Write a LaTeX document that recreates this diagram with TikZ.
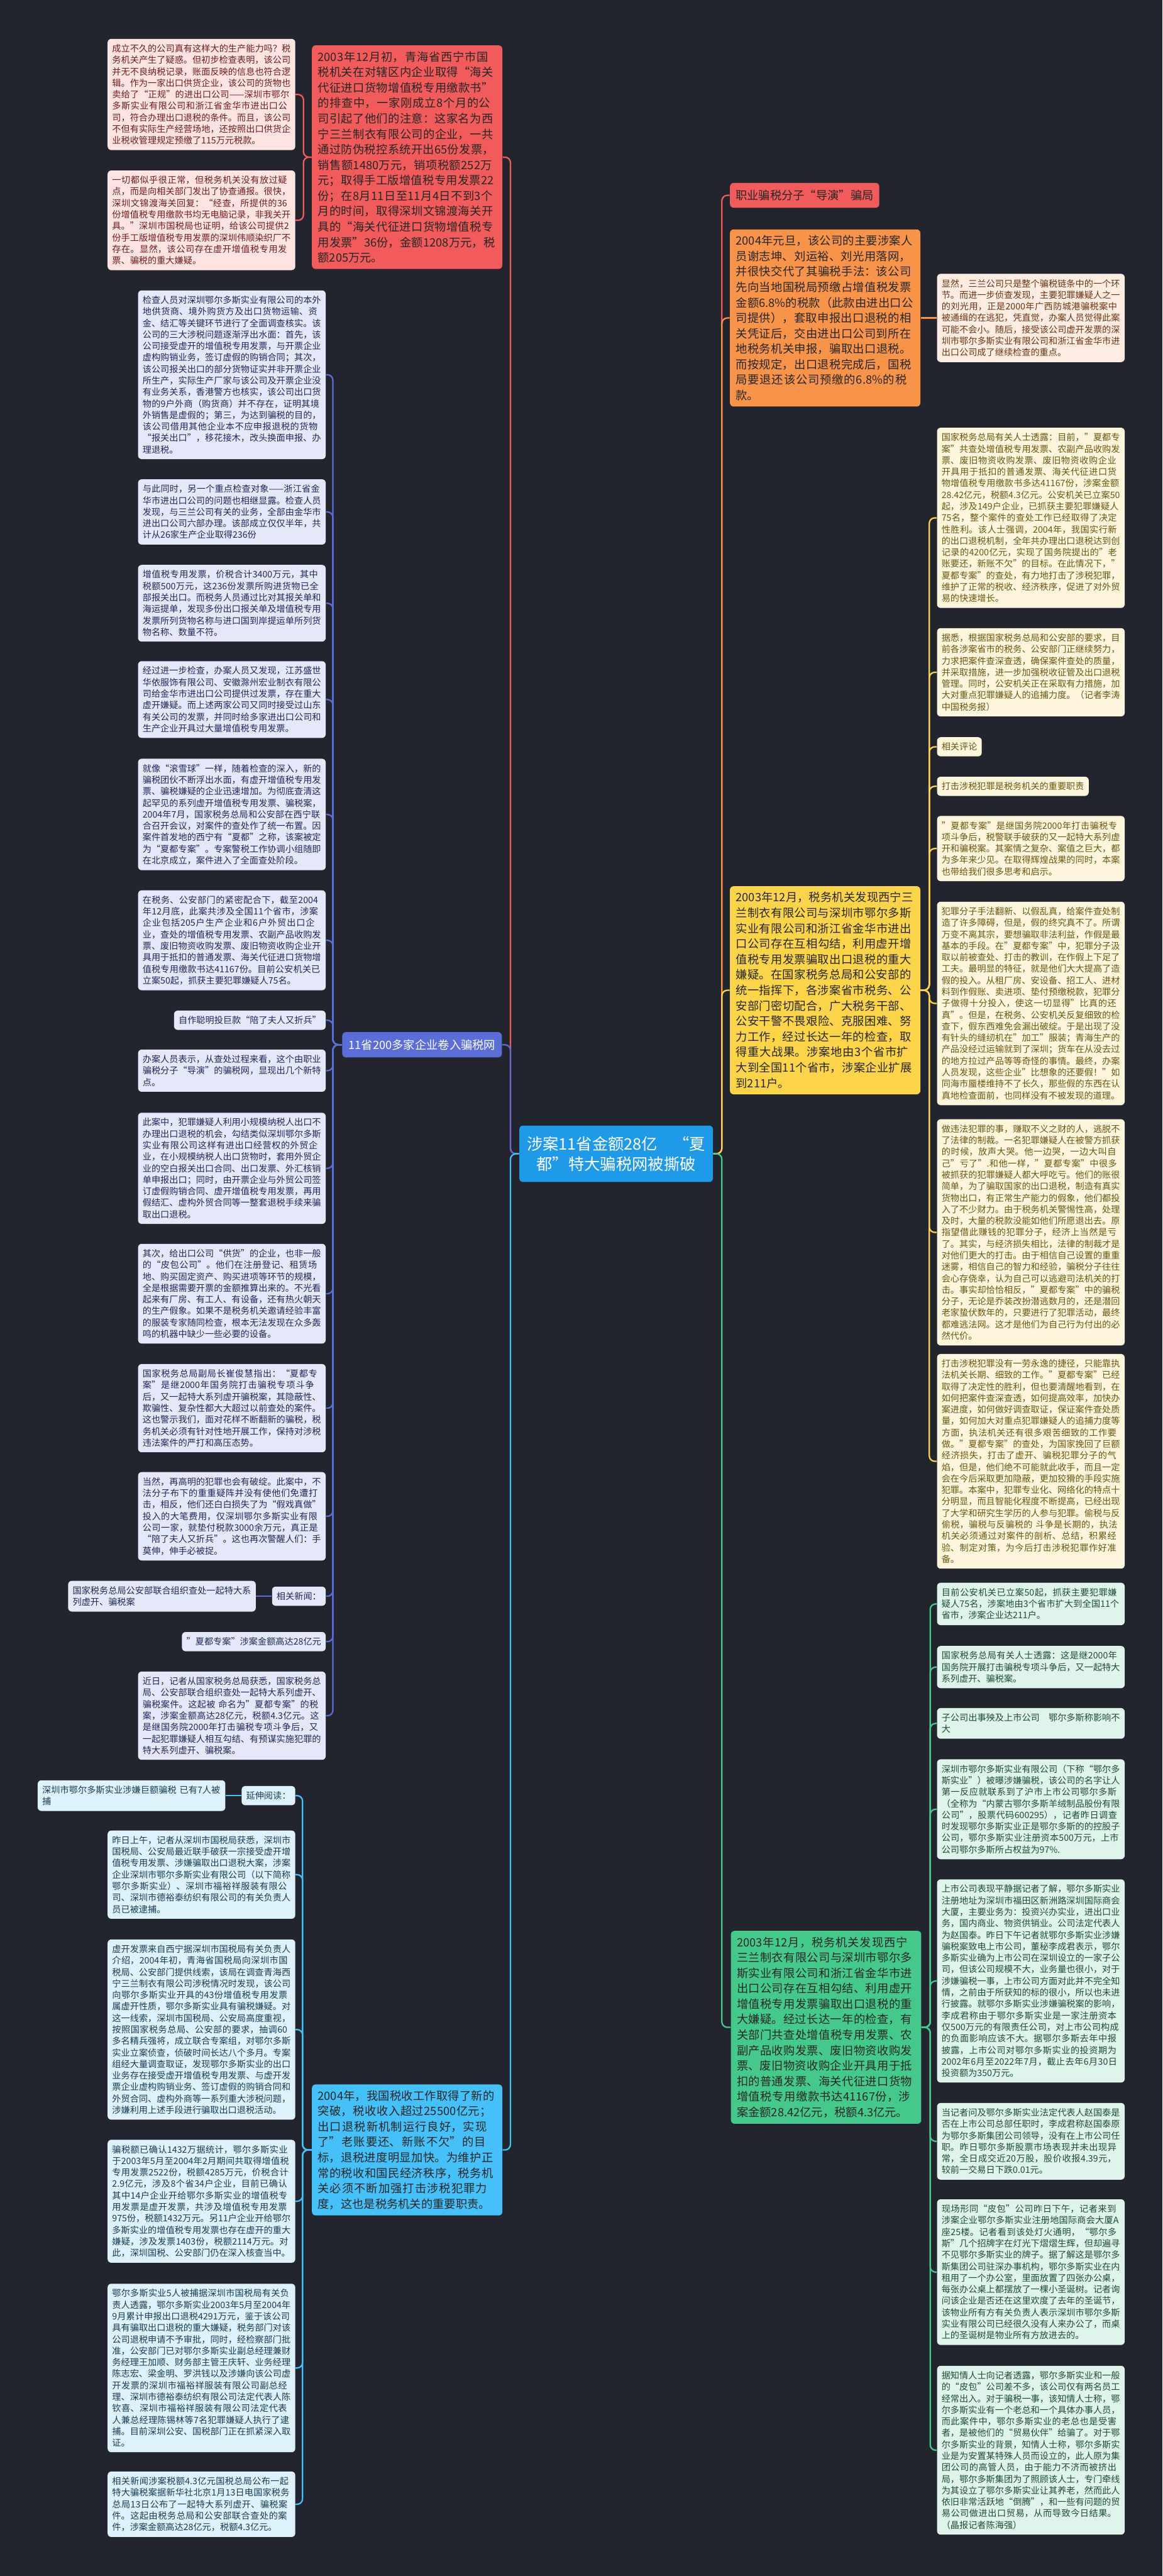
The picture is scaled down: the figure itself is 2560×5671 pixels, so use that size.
\documentclass[tikz,border=0pt]{standalone}
\usepackage{fontspec}
\setmainfont{Noto Sans CJK SC}
\XeTeXlinebreaklocale "zh"
\XeTeXlinebreakskip=0pt plus 1pt
\usepackage{tikz}

\definecolor{bgdark}{HTML}{22252E}
\definecolor{redmain}{HTML}{F15B5B}
\definecolor{pinkfill}{HTML}{FDE3E1}
\definecolor{pinktext}{HTML}{6E1E1E}
\definecolor{bluemain}{HTML}{5B6ED8}
\definecolor{lavfill}{HTML}{E4E8F8}
\definecolor{lavtext}{HTML}{1F2A5A}
\definecolor{rootblue}{HTML}{1E9AE8}
\definecolor{orgmain}{HTML}{F7944A}
\definecolor{peachfill}{HTML}{FDECE2}
\definecolor{peachtext}{HTML}{6B3512}
\definecolor{ylwmain}{HTML}{FBD44A}
\definecolor{creamfill}{HTML}{FDF6DC}
\definecolor{creamtext}{HTML}{6A5610}
\definecolor{grnmain}{HTML}{45C98A}
\definecolor{mintfill}{HTML}{DFF4EA}
\definecolor{minttext}{HTML}{1C4D35}
\definecolor{cyanmain}{HTML}{45C0F8}
\definecolor{skyfill}{HTML}{DEF2FB}
\definecolor{skytext}{HTML}{173D55}

\newcommand\leaffont{\fontsize{5.58pt}{7.2pt}\selectfont}
\newcommand\branchfont{\fontsize{7.2pt}{9.68pt}\selectfont}
\newcommand\rootfont{\fontsize{9.96pt}{12.8pt}\selectfont}

\begin{document}
\begin{tikzpicture}[x=0.01cm,y=-0.01cm,
	every node/.style={rounded corners=0.08cm},
	big/.style={text width=3.93cm,inner xsep=0.13cm,inner ysep=0.13cm,align=left,font=\branchfont,text=black!85},
	leaf/.style={text width=3.93cm,inner xsep=0.1cm,inner ysep=0.12cm,align=left,font=\leaffont},
	tag/.style={inner xsep=0.1cm,inner ysep=0.12cm,font=\leaffont},
	leafpink/.style={leaf,fill=pinkfill,text=pinktext},
	leaflav/.style={leaf,fill=lavfill,text=lavtext},
	taglav/.style={tag,fill=lavfill,text=lavtext},
	leafpeach/.style={leaf,fill=peachfill,text=peachtext},
	leafcream/.style={leaf,fill=creamfill,text=creamtext},
	tagcream/.style={tag,fill=creamfill,text=creamtext},
	leafmint/.style={leaf,fill=mintfill,text=minttext},
	leafsky/.style={leaf,fill=skyfill,text=skytext},
	tagsky/.style={tag,fill=skyfill,text=skytext},
	link/.style={line width=0.9pt,rounded corners=0.12cm}]
	\useasboundingbox (0,0) rectangle (2560,5671);
	\fill[bgdark] (0,0) rectangle (2560,5671);

	%root
	\node[fill=rootblue,text=white,font=\rootfont,align=center,minimum width=4.26cm,minimum height=1.24cm,inner sep=0.15cm] (ctr) at (1357,2540) {涉案11省金额28亿\quad“夏\\都”特大骗税网被撕破};

	%left side, red branch
	\node[big,fill=redmain,anchor=east] (redbox) at (1107,346) {2003年12月初，青海省西宁市国税机关在对辖区内企业取得“海关代征进口货物增值税专用缴款书”的排查中，一家刚成立8个月的公司引起了他们的注意：这家名为西宁三兰制衣有限公司的企业，一共通过防伪税控系统开出65份发票，销售额1480万元，销项税额252万元；取得手工版增值税专用发票22份；在8月11日至11月4日不到3个月的时间，取得深圳文锦渡海关开具的“海关代征进口货物增值税专用发票”36份，金额1208万元，税额205万元。};
	\node[leafpink,anchor=east] (pinkA) at (651,208) {成立不久的公司真有这样大的生产能力吗？税务机关产生了疑惑。但初步检查表明，该公司并无不良纳税记录，账面反映的信息也符合逻辑。作为一家出口供货企业，该公司的货物也卖给了“正规”的进出口公司——深圳市鄂尔多斯实业有限公司和浙江省金华市进出口公司，符合办理出口退税的条件。而且，该公司不但有实际生产经营场地，还按照出口供货企业税收管理规定预缴了115万元税款。};
	\node[leafpink,anchor=east] (pinkB) at (651,485) {一切都似乎很正常，但税务机关没有放过疑点，而是向相关部门发出了协查通报。很快，深圳文锦渡海关回复：“经查，所提供的36份增值税专用缴款书均无电脑记录，非我关开具。”深圳市国税局也证明，给该公司提供2份手工版增值税专用发票的深圳伟顺染织厂不存在。显然，该公司存在虚开增值税专用发票、骗税的重大嫌疑。};

	%left side, blue branch
	\node[fill=bluemain,text=white,font=\branchfont,inner xsep=0.14cm,inner ysep=0.16cm,anchor=east] (bluelbl) at (1106,2300) {11省200多家企业卷入骗税网};
	\node[leaflav,anchor=east] (lavA) at (718,825) {检查人员对深圳鄂尔多斯实业有限公司的本外地供货商、境外购货方及出口货物运输、资金、结汇等关键环节进行了全面调查核实。该公司的三大涉税问题逐渐浮出水面：首先，该公司接受虚开的增值税专用发票，与开票企业虚构购销业务，签订虚假的购销合同；其次，该公司报关出口的部分货物证实并非开票企业所生产，实际生产厂家与该公司及开票企业没有业务关系，香港警方也核实，该公司出口货物的9户外商（购货商）并不存在，证明其境外销售是虚假的；第三，为达到骗税的目的，该公司借用其他企业本不应申报退税的货物“报关出口”，移花接木，改头换面申报、办理退税。};
	\node[leaflav,anchor=east] (lavB) at (718,1127) {与此同时，另一个重点检查对象——浙江省金华市进出口公司的问题也相继显露。检查人员发现，与三兰公司有关的业务，全部由金华市进出口公司六部办理。该部成立仅仅半年，共计从26家生产企业取得236份};
	\node[leaflav,anchor=east] (lavC) at (718,1328) {增值税专用发票，价税合计3400万元，其中税额500万元，这236份发票所购进货物已全部报关出口。而税务人员通过比对其报关单和海运提单，发现多份出口报关单及增值税专用发票所列货物名称与进口国到岸提运单所列货物名称、数量不符。};
	\node[leaflav,anchor=east] (lavD) at (718,1540) {经过进一步检查，办案人员又发现，江苏盛世华依服饰有限公司、安徽滁州宏业制衣有限公司给金华市进出口公司提供过发票，存在重大虚开嫌疑。而上述两家公司又同时接受过山东有关公司的发票，并同时给多家进出口公司和生产企业开具过大量增值税专用发票。};
	\node[leaflav,anchor=east] (lavE) at (718,1793) {就像“滚雪球”一样，随着检查的深入，新的骗税团伙不断浮出水面，有虚开增值税专用发票、骗税嫌疑的企业迅速增加。为彻底查清这起罕见的系列虚开增值税专用发票、骗税案，2004年7月，国家税务总局和公安部在西宁联合召开会议，对案件的查处作了统一布置。因案件首发地的西宁有“夏都”之称，该案被定为“夏都专案”。专案警税工作协调小组随即在北京成立，案件进入了全面查处阶段。};
	\node[leaflav,anchor=east] (lavF) at (718,2070) {在税务、公安部门的紧密配合下，截至2004年12月底，此案共涉及全国11个省市，涉案企业包括205户生产企业和6户外贸出口企业，查处的增值税专用发票、农副产品收购发票、废旧物资收购发票、废旧物资收购企业开具用于抵扣的普通发票、海关代征进口货物增值税专用缴款书达41167份。目前公安机关已立案50起，抓获主要犯罪嫌疑人75名。};
	\node[taglav,anchor=east] (lavG) at (718,2246) {自作聪明投巨款“陪了夫人又折兵”};
	\node[leaflav,anchor=east] (lavH) at (718,2357) {办案人员表示，从查处过程来看，这个由职业骗税分子“导演”的骗税网，显现出几个新特点。};
	\node[leaflav,anchor=east] (lavI) at (718,2572) {此案中，犯罪嫌疑人利用小规模纳税人出口不办理出口退税的机会，勾结类似深圳鄂尔多斯实业有限公司这样有进出口经营权的外贸企业，在小规模纳税人出口货物时，套用外贸企业的空白报关出口合同、出口发票、外汇核销单申报出口；同时，由开票企业与外贸公司签订虚假购销合同、虚开增值税专用发票，再用假结汇、虚构外贸合同等一整套退税手续来骗取出口退税。};
	\node[leaflav,anchor=east] (lavJ) at (718,2848) {其次，给出口公司“供货”的企业，也非一般的“皮包公司”。他们在注册登记、租赁场地、购买固定资产、购买进项等环节的规模，全是根据需要开票的金额推算出来的。不光看起来有厂房、有工人、有设备，还有热火朝天的生产假象。如果不是税务机关邀请经验丰富的服装专家随同检查，根本无法发现在众多轰鸣的机器中缺少一些必要的设备。};
	\node[leaflav,anchor=east] (lavK) at (718,3100) {国家税务总局副局长崔俊慧指出：“夏都专案”是继2000年国务院打击骗税专项斗争后，又一起特大系列虚开骗税案，其隐蔽性、欺骗性、复杂性都大大超过以前查处的案件。这也警示我们，面对花样不断翻新的骗税，税务机关必须有针对性地开展工作，保持对涉税违法案件的严打和高压态势。};
	\node[leaflav,anchor=east] (lavL) at (718,3338) {当然，再高明的犯罪也会有破绽。此案中，不法分子布下的重重疑阵并没有使他们免遭打击，相反，他们还白白损失了为“假戏真做”投入的大笔费用，仅深圳鄂尔多斯实业有限公司一家，就垫付税款3000余万元，真正是“陪了夫人又折兵”。这也再次警醒人们：手莫伸，伸手必被捉。};
	\node[taglav,anchor=east] (lavNews) at (718,3514) {相关新闻：};
	\node[leaflav,anchor=east] (lavNewsItem) at (564,3514) {国家税务总局公安部联合组织查处一起特大系列虚开、骗税案};
	\node[taglav,anchor=east] (lavM) at (718,3614) {"夏都专案"涉案金额高达28亿元};
	\node[leaflav,anchor=east] (lavN) at (718,3777) {近日，记者从国家税务总局获悉，国家税务总局、公安部联合组织查处一起特大系列虚开、骗税案件。这起被 命名为"夏都专案"的税案，涉案金额高达28亿元，税额4.3亿元。这是继国务院2000年打击骗税专项斗争后，又一起犯罪嫌疑人相互勾结、有预谋实施犯罪的特大系列虚开、骗税案。};

	%left side, cyan branch
	\node[big,fill=cyanmain,anchor=east] (cyanbox) at (1107,4733) {2004年，我国税收工作取得了新的突破，税收收入超过25500亿元；出口退税新机制运行良好，实现了"老账要还、新账不欠"的目标，退税进度明显加快。为维护正常的税收和国民经济秩序，税务机关必须不断加强打击涉税犯罪力度，这也是税务机关的重要职责。};
	\node[tagsky,anchor=east] (skyRead) at (651,3953) {延伸阅读：};
	\node[leafsky,anchor=east] (skyReadItem) at (497,3953) {深圳市鄂尔多斯实业涉嫌巨额骗税 已有7人被捕};
	\node[leafsky,anchor=east] (skyA) at (651,4127) {昨日上午，记者从深圳市国税局获悉，深圳市国税局、公安局最近联手破获一宗接受虚开增值税专用发票、涉嫌骗取出口退税大案，涉案企业深圳市鄂尔多斯实业有限公司（以下简称鄂尔多斯实业）、深圳市福裕祥服装有限公司、深圳市德裕泰纺织有限公司的有关负责人员已被逮捕。};
	\node[leafsky,anchor=east] (skyB) at (651,4468) {虚开发票来自西宁据深圳市国税局有关负责人介绍，2004年初，青海省国税局向深圳市国税局、公安部门提供线索，该局在调查青海西宁三兰制衣有限公司涉税情况时发现，该公司向鄂尔多斯实业开具的43份增值税专用发票属虚开性质，鄂尔多斯实业具有骗税嫌疑。对这一线索，深圳市国税局、公安局高度重视，按照国家税务总局、公安部的要求，抽调60多名精兵强将，成立联合专案组，对鄂尔多斯实业立案侦查，侦破时间长达八个多月。专案组经大量调查取证，发现鄂尔多斯实业的出口业务存在接受虚开增值税专用发票、与虚开发票企业虚构购销业务、签订虚假的购销合同和外贸合同、虚构外商等一系列重大涉税问题，涉嫌利用上述手段进行骗取出口退税活动。};
	\node[leafsky,anchor=east] (skyC) at (651,4846) {骗税额已确认1432万据统计，鄂尔多斯实业于2003年5月至2004年2月期间共取得增值税专用发票2522份，税额4285万元，价税合计2.9亿元，涉及8个省34户企业，目前已确认其中14户企业开给鄂尔多斯实业的增值税专用发票是虚开发票，共涉及增值税专用发票975份，税额1432万元。另11户企业开给鄂尔多斯实业的增值税专用发票也存在虚开的重大嫌疑，涉及发票1403份，税额2114万元。对此，深圳国税、公安部门仍在深入核查当中。};
	\node[leafsky,anchor=east] (skyD) at (651,5213) {鄂尔多斯实业5人被捕据深圳市国税局有关负责人透露，鄂尔多斯实业2003年5月至2004年9月累计申报出口退税4291万元，鉴于该公司具有骗取出口退税的重大嫌疑，税务部门对该公司退税申请不予审批，同时，经检察部门批准，公安部门已对鄂尔多斯实业副总经理兼财务经理王加顺、财务部主管王庆轩、业务经理陈志宏、梁金明、罗洪钱以及涉嫌向该公司虚开发票的深圳市福裕祥服装有限公司副总经理、深圳市德裕泰纺织有限公司法定代表人陈钦喜、深圳市福裕祥服装有限公司法定代表人兼总经理陈锡林等7名犯罪嫌疑人执行了逮捕。目前深圳公安、国税部门正在抓紧深入取证。};
	\node[leafsky,anchor=east] (skyE) at (651,5513) {相关新闻涉案税额4.3亿元国税总局公布一起特大骗税案据新华社北京1月13日电国家税务总局13日公布了一起特大系列虚开、骗税案件。这起由税务总局和公安部联合查处的案件，涉案金额高达28亿元，税额4.3亿元。};

	%right side, red label and orange branch
	\node[fill=redmain,text=black!85,font=\branchfont,inner xsep=0.125cm,inner ysep=0.155cm,anchor=west] (redlbl) at (1607,430) {职业骗税分子“导演”骗局};
	\node[big,fill=orgmain,anchor=west] (orgbox) at (1607,700) {2004年元旦，该公司的主要涉案人员谢志坤、刘运裕、刘光用落网，并很快交代了其骗税手法：该公司先向当地国税局预缴占增值税发票金额6.8\%的税款（此款由进出口公司提供），套取申报出口退税的相关凭证后，交由进出口公司到所在地税务机关申报，骗取出口退税。而按规定，出口退税完成后，国税局要退还该公司预缴的6.8\%的税款。};
	\node[leafpeach,anchor=west] (peachA) at (2063,700) {显然，三兰公司只是整个骗税链条中的一个环节。而进一步侦查发现，主要犯罪嫌疑人之一的刘光用，正是2000年广西防城港骗税案中被通缉的在逃犯，凭直觉，办案人员觉得此案可能不会小。随后，接受该公司虚开发票的深圳市鄂尔多斯实业有限公司和浙江省金华市进出口公司成了继续检查的重点。};

	%right side, yellow branch
	\node[big,fill=ylwmain,anchor=west] (ylwbox) at (1607,2180) {2003年12月，税务机关发现西宁三兰制衣有限公司与深圳市鄂尔多斯实业有限公司和浙江省金华市进出口公司存在互相勾结，利用虚开增值税专用发票骗取出口退税的重大嫌疑。在国家税务总局和公安部的统一指挥下，各涉案省市税务、公安部门密切配合，广大税务干部、公安干警不畏艰险、克服困难、努力工作，经过长达一年的检查，取得重大战果。涉案地由3个省市扩大到全国11个省市，涉案企业扩展到211户。};
	\node[leafcream,anchor=west] (creamA) at (2063,1140) {国家税务总局有关人士透露：目前，"夏都专案"共查处增值税专用发票、农副产品收购发票、废旧物资收购发票、废旧物资收购企业开具用于抵扣的普通发票、海关代征进口货物增值税专用缴款书多达41167份，涉案金额28.42亿元，税额4.3亿元。公安机关已立案50起，涉及149户企业，已抓获主要犯罪嫌疑人75名，整个案件的查处工作已经取得了决定性胜利。该人士强调，2004年，我国实行新的出口退税机制，全年共办理出口退税达到创记录的4200亿元，实现了国务院提出的"老账要还，新账不欠"的目标。在此情况下，"夏都专案"的查处，有力地打击了涉税犯罪，维护了正常的税收、经济秩序，促进了对外贸易的快速增长。};
	\node[leafcream,anchor=west] (creamB) at (2063,1480) {据悉，根据国家税务总局和公安部的要求，目前各涉案省市的税务、公安部门正继续努力，力求把案件查深查透，确保案件查处的质量，并采取措施，进一步加强税收征管及出口退税管理。同时，公安机关正在采取有力措施，加大对重点犯罪嫌疑人的追捕力度。（记者李涛 中国税务报）};
	\node[tagcream,anchor=west] (creamC) at (2063,1644) {相关评论};
	\node[tagcream,anchor=west] (creamD) at (2063,1731) {打击涉税犯罪是税务机关的重要职责};
	\node[leafcream,anchor=west] (creamE) at (2063,1868) {"夏都专案"是继国务院2000年打击骗税专项斗争后，税警联手破获的又一起特大系列虚开和骗税案。其案情之复杂、案值之巨大，都为多年来少见。在取得辉煌战果的同时，本案也带给我们很多思考和启示。};
	\node[leafcream,anchor=west] (creamF) at (2063,2209) {犯罪分子手法翻新、以假乱真，给案件查处制造了许多障碍，但是，假的终究真不了。所谓万变不离其宗，要想骗取非法利益，作假是最基本的手段。在"夏都专案"中，犯罪分子汲取以前被查处、打击的教训，在作假上下足了工夫。最明显的特征，就是他们大大提高了造假的投入。从租厂房、安设备、招工人、进材料到作假账、卖进项、垫付预缴税款，犯罪分子做得十分投入，使这一切显得"比真的还真"。但是，在税务、公安机关反复细致的检查下，假东西难免会漏出破绽。于是出现了没有针头的缝纫机在"加工"服装；青海生产的产品没经过运输就到了深圳；货车在从没去过的地方拉过产品等等奇怪的事情。最终，办案人员发现，这些企业"比想象的还要假！"如同海市蜃楼维持不了长久，那些假的东西在认真地检查面前，也同样没有不被发现的道理。};
	\node[leafcream,anchor=west] (creamG) at (2063,2713) {做违法犯罪的事，赚取不义之财的人，逃脱不了法律的制裁。一名犯罪嫌疑人在被警方抓获的时候，放声大哭。他一边哭，一边大叫自己"亏了".和他一样，"夏都专案"中很多被抓获的犯罪嫌疑人都大呼吃亏。他们的账很简单，为了骗取国家的出口退税，制造有真实货物出口，有正常生产能力的假象，他们都投入了不少财力。由于税务机关警惕性高，处理及时，大量的税款没能如他们所愿退出去。原指望借此赚钱的犯罪分子，经济上当然是亏了。其实，与经济损失相比，法律的制裁才是对他们更大的打击。由于相信自己设置的重重迷雾，相信自己的智力和经验，骗税分子往往会心存侥幸，认为自己可以逃避司法机关的打击。事实却恰恰相反，"夏都专案"中的骗税分子，无论是乔装改扮潜逃数月的，还是潜回老家蛰伏数年的，只要进行了犯罪活动，最终都难逃法网。这才是他们为自己行为付出的必然代价。};
	\node[leafcream,anchor=west] (creamH) at (2063,3217) {打击涉税犯罪没有一劳永逸的捷径，只能靠执法机关长期、细致的工作。"夏都专案"已经取得了决定性的胜利，但也要清醒地看到，在如何把案件查深查透，如何提高效率，加快办案进度，如何做好调查取证，保证案件查处质量，如何加大对重点犯罪嫌疑人的追捕力度等方面，执法机关还有很多艰苦细致的工作要做。"夏都专案"的查处，为国家挽回了巨额经济损失，打击了虚开、骗税犯罪分子的气焰，但是，他们绝不可能就此收手，而且一定会在今后采取更加隐蔽，更加狡猾的手段实施犯罪。本案中，犯罪专业化、网络化的特点十分明显，而且智能化程度不断提高，已经出现了大学和研究生学历的人参与犯罪。偷税与反偷税，骗税与反骗税的 斗争是长期的，执法机关必须通过对案件的剖析、总结，积累经验、制定对策，为今后打击涉税犯罪作好准备。};

	%right side, green branch
	\node[big,fill=grnmain,anchor=west] (grnbox) at (1609,4463) {2003年12月，税务机关发现西宁三兰制衣有限公司与深圳市鄂尔多斯实业有限公司和浙江省金华市进出口公司存在互相勾结、利用虚开增值税专用发票骗取出口退税的重大嫌疑。经过长达一年的检查，有关部门共查处增值税专用发票、农副产品收购发票、废旧物资收购发票、废旧物资收购企业开具用于抵扣的普通发票、海关代征进口货物增值税专用缴款书达41167份，涉案金额28.42亿元，税额4.3亿元。};
	\node[leafmint,anchor=west] (mintA) at (2063,3531) {目前公安机关已立案50起，抓获主要犯罪嫌疑人75名，涉案地由3个省市扩大到全国11个省市，涉案企业达211户。};
	\node[leafmint,anchor=west] (mintB) at (2063,3670) {国家税务总局有关人士透露：这是继2000年国务院开展打击骗税专项斗争后，又一起特大系列虚开、骗税案。};
	\node[leafmint,anchor=west] (mintC) at (2063,3794) {子公司出事殃及上市公司\quad 鄂尔多斯称影响不大};
	\node[leafmint,anchor=west] (mintD) at (2063,3983) {深圳市鄂尔多斯实业有限公司（下称“鄂尔多斯实业”）被曝涉嫌骗税，该公司的名字让人第一反应就联系到了沪市上市公司鄂尔多斯（全称为“内蒙古鄂尔多斯羊绒制品股份有限公司”，股票代码600295），记者昨日调查时发现鄂尔多斯实业正是鄂尔多斯的的控股子公司，鄂尔多斯实业注册资本500万元，上市公司鄂尔多斯所占权益为97\%.};
	\node[leafmint,anchor=west] (mintE) at (2063,4361) {上市公司表现平静据记者了解，鄂尔多斯实业注册地址为深圳市福田区新洲路深圳国际商会大厦，主要业务为：投资兴办实业，进出口业务，国内商业、物资供销业。公司法定代表人为赵国泰。昨日下午记者就鄂尔多斯实业涉嫌骗税案致电上市公司，董秘李成君表示，鄂尔多斯实业确为上市公司在深圳设立的一家子公司，但该公司规模不大，业务量也很小，对于涉嫌骗税一事，上市公司方面对此并不完全知情，之前由于所获知的标的很小，所以也未进行披露。就鄂尔多斯实业涉嫌骗税案的影响，李成君称由于鄂尔多斯实业是一家注册资本仅500万元的有限责任公司，对上市公司构成的负面影响应该不大。据鄂尔多斯去年中报披露，上市公司对鄂尔多斯实业的投资期为2002年6月至2022年7月，截止去年6月30日投资额为350万元。};
	\node[leafmint,anchor=west] (mintF) at (2063,4714) {当记者问及鄂尔多斯实业法定代表人赵国泰是否在上市公司总部任职时，李成君称赵国泰原为鄂尔多斯集团公司领导，没有在上市公司任职。昨日鄂尔多斯股票市场表现并未出现异常，全日成交近20万股，股价收报4.39元，较前一交易日下跌0.01元。};
	\node[leafmint,anchor=west] (mintG) at (2063,5002) {现场形同“皮包”公司昨日下午，记者来到涉案企业鄂尔多斯实业注册地国际商会大厦A座25楼。记者看到该处灯火通明，“鄂尔多斯”几个招牌字在灯光下熠熠生辉，但却遍寻不见鄂尔多斯实业的牌子。据了解这是鄂尔多斯集团公司驻深办事机构，鄂尔多斯实业在内租用了一个办公室，里面放置了四张办公桌，每张办公桌上都摆放了一棵小圣诞树。记者询问该企业是否还在这里欢度了去年的圣诞节，该物业所有方有关负责人表示深圳市鄂尔多斯实业有限公司已经很久没有人来办公了，而桌上的圣诞树是物业所有方放进去的。};
	\node[leafmint,anchor=west] (mintH) at (2063,5394) {据知情人士向记者透露，鄂尔多斯实业和一般的“皮包”公司差不多，该公司仅有两名员工经常出入。对于骗税一事，该知情人士称，鄂尔多斯实业有一个老总和一个具体办事人员，而此案件中，鄂尔多斯实业的老总也是受害者，是被他们的“贸易伙伴”给骗了。对于鄂尔多斯实业的背景，知情人士称，鄂尔多斯实业是为安置某特殊人员而设立的，此人原为集团公司的高管人员，由于能力不济而被挤出局，鄂尔多斯集团为了照顾该人士，专门牵线为其设立了鄂尔多斯实业让其养老，然而此人依旧非常活跃地“倒腾”，和一些有问题的贸易公司做进出口贸易，从而导致今日结果。（晶报记者陈海强）};

	%links, root to branches
	\draw[link,redmain]  (ctr.west) -- ++(-19,0) |- (redbox.east);
	\draw[link,bluemain] (ctr.west) -- ++(-19,0) |- (bluelbl.east);
	\draw[link,cyanmain] (ctr.west) -- ++(-19,0) |- (cyanbox.east);
	\draw[link,redmain]  (ctr.east) -- ++(19,0) |- (redlbl.west);
	\draw[link,orgmain]  (ctr.east) -- ++(19,0) |- (orgbox.west);
	\draw[link,ylwmain]  (ctr.east) -- ++(19,0) |- (ylwbox.west);
	\draw[link,grnmain]  (ctr.east) -- ++(19,0) |- (grnbox.west);

	%links, red branch
	\draw[link,redmain] (redbox.west) -- ++(-18,0) |- (pinkA.east);
	\draw[link,redmain] (redbox.west) -- ++(-18,0) |- (pinkB.east);

	%links, blue branch
	\draw[link,bluemain] (bluelbl.west) -- ++(-20,0) |- (lavA.east);
	\draw[link,bluemain] (bluelbl.west) -- ++(-20,0) |- (lavB.east);
	\draw[link,bluemain] (bluelbl.west) -- ++(-20,0) |- (lavC.east);
	\draw[link,bluemain] (bluelbl.west) -- ++(-20,0) |- (lavD.east);
	\draw[link,bluemain] (bluelbl.west) -- ++(-20,0) |- (lavE.east);
	\draw[link,bluemain] (bluelbl.west) -- ++(-20,0) |- (lavF.east);
	\draw[link,bluemain] (bluelbl.west) -- ++(-20,0) |- (lavG.east);
	\draw[link,bluemain] (bluelbl.west) -- ++(-20,0) |- (lavH.east);
	\draw[link,bluemain] (bluelbl.west) -- ++(-20,0) |- (lavI.east);
	\draw[link,bluemain] (bluelbl.west) -- ++(-20,0) |- (lavJ.east);
	\draw[link,bluemain] (bluelbl.west) -- ++(-20,0) |- (lavK.east);
	\draw[link,bluemain] (bluelbl.west) -- ++(-20,0) |- (lavL.east);
	\draw[link,bluemain] (bluelbl.west) -- ++(-20,0) |- (lavNews.east);
	\draw[link,bluemain] (bluelbl.west) -- ++(-20,0) |- (lavM.east);
	\draw[link,bluemain] (bluelbl.west) -- ++(-20,0) |- (lavN.east);
	\draw[link,bluemain] (lavNews.west) -- (lavNewsItem.east);

	%links, cyan branch
	\draw[link,cyanmain] (cyanbox.west) -- ++(-20,0) |- (skyRead.east);
	\draw[link,cyanmain] (cyanbox.west) -- ++(-20,0) |- (skyA.east);
	\draw[link,cyanmain] (cyanbox.west) -- ++(-20,0) |- (skyB.east);
	\draw[link,cyanmain] (cyanbox.west) -- ++(-20,0) |- (skyC.east);
	\draw[link,cyanmain] (cyanbox.west) -- ++(-20,0) |- (skyD.east);
	\draw[link,cyanmain] (cyanbox.west) -- ++(-20,0) |- (skyE.east);
	\draw[link,cyanmain] (skyRead.west) -- (skyReadItem.east);

	%links, right branches
	\draw[link,orgmain] (orgbox.east) -- (peachA.west);
	\draw[link,ylwmain] (ylwbox.east) -- ++(19,0) |- (creamA.west);
	\draw[link,ylwmain] (ylwbox.east) -- ++(19,0) |- (creamB.west);
	\draw[link,ylwmain] (ylwbox.east) -- ++(19,0) |- (creamC.west);
	\draw[link,ylwmain] (ylwbox.east) -- ++(19,0) |- (creamD.west);
	\draw[link,ylwmain] (ylwbox.east) -- ++(19,0) |- (creamE.west);
	\draw[link,ylwmain] (ylwbox.east) -- ++(19,0) |- (creamF.west);
	\draw[link,ylwmain] (ylwbox.east) -- ++(19,0) |- (creamG.west);
	\draw[link,ylwmain] (ylwbox.east) -- ++(19,0) |- (creamH.west);
	\draw[link,grnmain] (grnbox.east) -- ++(19,0) |- (mintA.west);
	\draw[link,grnmain] (grnbox.east) -- ++(19,0) |- (mintB.west);
	\draw[link,grnmain] (grnbox.east) -- ++(19,0) |- (mintC.west);
	\draw[link,grnmain] (grnbox.east) -- ++(19,0) |- (mintD.west);
	\draw[link,grnmain] (grnbox.east) -- ++(19,0) |- (mintE.west);
	\draw[link,grnmain] (grnbox.east) -- ++(19,0) |- (mintF.west);
	\draw[link,grnmain] (grnbox.east) -- ++(19,0) |- (mintG.west);
	\draw[link,grnmain] (grnbox.east) -- ++(19,0) |- (mintH.west);
\end{tikzpicture}
\end{document}
